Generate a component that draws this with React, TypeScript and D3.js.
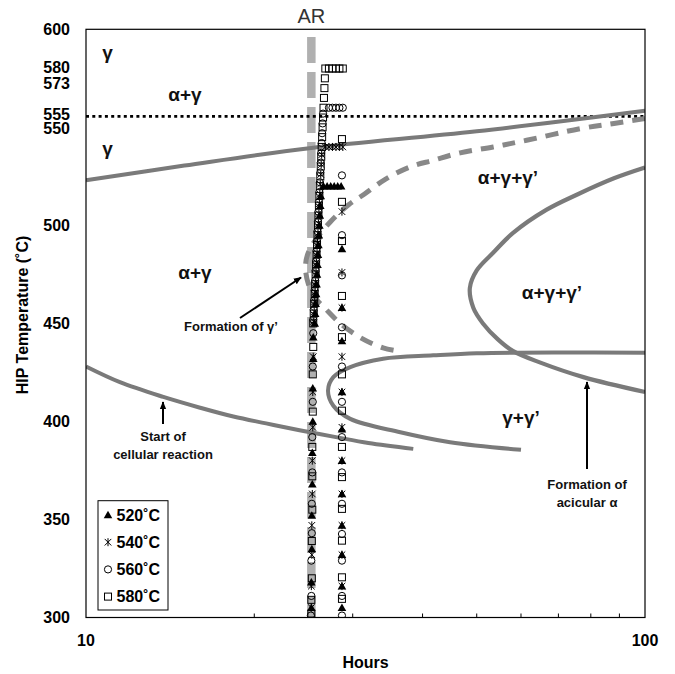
import React from 'react';
import * as d3 from 'd3';

const W = 675;
const H = 674;
const PL = 86, PR = 645, PT = 29.3, PB = 617.5;

// ---- axes ----
const yTickValues = [600, 580, 573, 555, 550, 500, 450, 400, 350, 300];
const xMajorTicks = [10, 100];
const xMinorTicks = [20, 30, 40, 50, 60, 70, 80, 90];

// ---- reference lines ----
const solidTempLines = [580, 573];
const dottedTemp = 555;
const arHours = 25.3;

// ---- phase boundaries [hours, °C] ----
const upperBoundary: [number, number][] = [[10, 523], [15, 530.5], [25.3, 539.5], [50, 548], [100, 558.5]];
const gammaPrimeCurve: [number, number][] = [
  [100, 554.5], [88, 552], [76.5, 549.3], [61.4, 543.4], [53.5, 540], [46.7, 537], [41.8, 533.2], [38, 529.8],
  [34.3, 523.5], [31.5, 516], [29.5, 510.5], [27.4, 502], [25.8, 493], [24.9, 485], [24.7, 478], [25.0, 470],
  [25.7, 463], [26.8, 457.5], [28.5, 450], [31, 442.7], [34, 437.5], [36, 436],
];
const acicularCurve: [number, number][] = [
  [100, 529.5], [88, 524], [76, 516], [66.7, 508], [58, 496], [53.5, 486], [50, 477], [48.6, 468], [49.3, 458],
  [51.3, 450], [54.5, 442], [58, 436], [65, 430], [77.6, 422.6], [100, 415],
];
const gammaGammaPrimeCurve: [number, number][] = [
  [100, 435], [70, 435.2], [50, 434.8], [41.8, 433.7], [34, 432], [29.7, 427.7], [27.7, 422.6], [27.1, 415.8],
  [27.7, 408], [29.7, 401.3], [36.5, 394.5], [44.8, 389.4], [60, 385.5],
];
const cellularCurve: [number, number][] = [
  [10, 428], [11.5, 420], [13.75, 412.5], [16, 407], [18.35, 402.5], [21, 399], [24.1, 395.5], [28, 392],
  [32, 389], [38.5, 386],
];

// ---- measured series [hours, °C] ----
const series580: [number, number][] = [
  [25.3, 302], [25.3, 309], [25.35, 320], [25.35, 339], [25.4, 355], [25.4, 372], [25.4, 387], [25.45, 405], [25.45, 424], [25.5, 438],
  [25.5, 450], [25.55, 455], [25.6, 460], [25.65, 465], [25.7, 470], [25.75, 475], [25.8, 480], [25.85, 485], [25.9, 490], [25.95, 495],
  [26.0, 500], [26.05, 505], [26.1, 510], [26.15, 515], [26.2, 520], [26.25, 525], [26.3, 530], [26.35, 535], [26.4, 540], [26.45, 545],
  [26.5, 550], [26.55, 555], [26.6, 560], [26.65, 565], [26.7, 570], [26.75, 575],
  [26.8, 580], [27.2, 580], [27.6, 580], [28.0, 580], [28.4, 580], [28.8, 580],
  [28.7, 544], [28.7, 512], [28.7, 492], [28.7, 464], [28.7, 443], [28.7, 424], [28.7, 405.5], [28.7, 387], [28.7, 371.6],
  [28.7, 355.4], [28.7, 339.2], [28.7, 320.5], [28.7, 309.5],
];
const series560: [number, number][] = [
  [25.25, 301], [25.3, 311], [25.3, 329], [25.35, 343], [25.35, 358], [25.4, 374], [25.4, 392], [25.45, 410], [25.45, 428], [25.5, 445],
  [25.5, 452], [25.55, 457], [25.6, 462], [25.65, 467], [25.7, 472], [25.75, 477], [25.8, 482], [25.85, 487], [25.9, 492], [25.95, 497],
  [26.0, 502], [26.05, 507], [26.1, 512], [26.15, 517], [26.2, 522], [26.25, 527], [26.3, 532], [26.35, 537], [26.4, 542], [26.45, 547],
  [26.5, 552], [26.55, 557],
  [27.2, 560], [27.6, 560], [28.0, 560], [28.4, 560], [28.8, 560],
  [28.7, 525.5], [28.7, 495], [28.7, 474.5], [28.7, 448], [28.7, 428], [28.7, 410], [28.7, 392], [28.7, 374], [28.7, 358],
  [28.7, 342.6], [28.7, 329], [28.7, 311], [28.7, 301],
];
const series540: [number, number][] = [
  [25.3, 305], [25.3, 316], [25.35, 332], [25.35, 347], [25.4, 363], [25.4, 380], [25.45, 397], [25.45, 415], [25.5, 433],
  [25.55, 451], [25.6, 456], [25.65, 461], [25.7, 466], [25.75, 471], [25.8, 476], [25.85, 481], [25.9, 486], [25.95, 491], [26.0, 496],
  [26.05, 501], [26.1, 506], [26.15, 511], [26.2, 516], [26.25, 521], [26.3, 526], [26.35, 531], [26.4, 536],
  [26.8, 540], [27.2, 540], [27.6, 540], [28.0, 540], [28.4, 540], [28.8, 540],
  [28.7, 507], [28.7, 476], [28.7, 458], [28.7, 433], [28.7, 415], [28.7, 397], [28.7, 380], [28.7, 363], [28.7, 347],
  [28.7, 332], [28.7, 316],
];
const series520: [number, number][] = [
  [25.3, 305], [25.3, 318], [25.35, 335], [25.35, 352], [25.4, 368], [25.4, 384], [25.45, 400], [25.45, 417], [25.5, 432], [25.5, 443],
  [25.65, 450], [25.7, 455], [25.75, 460], [25.8, 465], [25.85, 470], [25.9, 475], [25.95, 480], [26.0, 485], [26.05, 490], [26.1, 495],
  [26.15, 500], [26.2, 505], [26.25, 510], [26.3, 515],
  [26.6, 520], [27.0, 520], [27.4, 520], [27.8, 520], [28.2, 520], [28.6, 520],
  [28.7, 488], [28.7, 458], [28.7, 441], [28.7, 415], [28.7, 396], [28.7, 380], [28.7, 363], [28.7, 347], [28.7, 332],
  [28.7, 316], [28.7, 305],
];

const legendLabels = ['520˚C', '540˚C', '560˚C', '580˚C'];
const legendSymbols = ['tri', 'star', 'circle', 'square'];

const FONT = "'Liberation Sans', Arial, Helvetica, sans-serif";

// small nudges so closely spaced tick labels do not collide (as in the original)
const labelNudge: Record<number, number> = { 580: -1.5, 573: 0.8, 555: -3.6, 550: 1.2 };

function Marker({ type, x, y }: { type: string; x: number; y: number }) {
  if (type === 'tri') {
    return <path d={`M${x},${y - 4.2}L${x + 4.3},${y + 3.3}L${x - 4.3},${y + 3.3}Z`} fill="#000" />;
  }
  if (type === 'star') {
    const r = 3.3;
    return (
      <g stroke="#000" strokeWidth={1}>
        <line x1={x - r} y1={y - r} x2={x + r} y2={y + r} />
        <line x1={x - r} y1={y + r} x2={x + r} y2={y - r} />
        <line x1={x} y1={y - 4} x2={x} y2={y + 4} />
      </g>
    );
  }
  if (type === 'circle') {
    return <circle cx={x} cy={y} r={3.6} fill="none" stroke="#000" strokeWidth={1} />;
  }
  return <rect x={x - 3.5} y={y - 3.5} width={7} height={7} fill="none" stroke="#000" strokeWidth={1} />;
}

export default function App() {
  const x = d3.scaleLog().domain([10, 100]).range([PL, PR]);
  const y = d3.scaleLinear().domain([300, 600]).range([PB, PT]);
  const line = d3
    .line<[number, number]>()
    .x((d) => x(d[0]))
    .y((d) => y(d[1]))
    .curve(d3.curveCatmullRom.alpha(0.5));

  const seriesList: { data: [number, number][]; type: string }[] = [
    { data: series580, type: 'square' },
    { data: series560, type: 'circle' },
    { data: series540, type: 'star' },
    { data: series520, type: 'tri' },
  ];

  const grayCurve = '#7a7a7a';

  return (
    <svg width={W} height={H} style={{ position: 'absolute', left: 0, top: 0, background: '#fff' }} fontFamily={FONT}>
      <defs>
        <clipPath id="plot">
          <rect x={PL} y={PT} width={PR - PL} height={PB - PT} />
        </clipPath>
        <filter id="soft" x="-5%" y="-5%" width="110%" height="110%">
          <feGaussianBlur stdDeviation={0.6} />
        </filter>
        <marker id="arrow" viewBox="0 0 10 10" refX={9} refY={5} markerWidth={8} markerHeight={8} orient="auto-start-reverse" markerUnits="userSpaceOnUse">
          <path d="M0,1L10,5L0,9Z" fill="#000" />
        </marker>
      </defs>
      <rect x={0} y={0} width={W} height={H} fill="#fff" />

      <g clipPath="url(#plot)">
        {/* AR dashed band */}
        <line x1={x(arHours)} x2={x(arHours)} y1={37} y2={PB} stroke="#b0b0b0" strokeWidth={8.5} strokeDasharray="26 9" />

        {/* horizontal temperature lines */}
        {solidTempLines.map((t) => (
          <line key={t} x1={PL} x2={PR} y1={y(t)} y2={y(t)} stroke="#777" strokeWidth={3} filter="url(#soft)" />
        ))}
        <line x1={PL} x2={PR} y1={y(dottedTemp) - 1.2} y2={y(dottedTemp) - 1.2} stroke="#000" strokeWidth={2.6} strokeDasharray="3 3.3" />

        {/* phase boundaries */}
        <g fill="none" stroke={grayCurve} filter="url(#soft)">
          <path d={line(upperBoundary) || ''} strokeWidth={4} />
          <path d={line(gammaPrimeCurve) || ''} strokeWidth={5} strokeDasharray="13 9" stroke="#888" />
          <path d={line(acicularCurve) || ''} strokeWidth={4.2} />
          <path d={line(gammaGammaPrimeCurve) || ''} strokeWidth={4} />
          <path d={line(cellularCurve) || ''} strokeWidth={4} />
        </g>

        {/* markers */}
        {seriesList.map((s) => (
          <g key={s.type}>
            {s.data.map((d, i) => (
              <Marker key={i} type={s.type} x={x(d[0])} y={y(d[1])} />
            ))}
          </g>
        ))}
      </g>

      {/* x minor ticks */}
      {xMinorTicks.map((t) => (
        <line key={t} x1={x(t)} x2={x(t)} y1={PB} y2={PB - 4} stroke="#000" strokeWidth={1} />
      ))}

      {/* plot border */}
      <rect x={PL} y={PT} width={PR - PL} height={PB - PT} fill="none" stroke="#000" strokeWidth={1.2} />

      {/* y tick labels */}
      {yTickValues.map((t) => (
        <text key={t} x={70} y={y(t) + (labelNudge[t] || 0)} dy="0.36em" textAnchor="end" fontSize={16} fontWeight="bold" fill="#000">
          {t}
        </text>
      ))}
      {/* x tick labels */}
      {xMajorTicks.map((t) => (
        <text key={t} x={x(t)} y={646} textAnchor="middle" fontSize={16} fontWeight="bold" fill="#000">
          {t}
        </text>
      ))}

      {/* axis titles */}
      <text x={(PL + PR) / 2} y={668} textAnchor="middle" fontSize={16} fontWeight="bold">Hours</text>
      <text transform={`translate(28,315) rotate(-90)`} textAnchor="middle" fontSize={16} fontWeight="bold">HIP Temperature (˚C)</text>
      <text x={x(arHours)} y={23} textAnchor="middle" fontSize={20} fill="#333">AR</text>

      {/* region labels */}
      <g fontSize={19} fontWeight="bold" textAnchor="middle" fill="#111">
        <text x={107.5} y={52} dy="0.35em">γ</text>
        <text x={185} y={94} dy="0.35em">α+γ</text>
        <text x={107.5} y={148} dy="0.35em">γ</text>
        <text x={195} y={272} dy="0.35em">α+γ</text>
        <text x={508} y={177} dy="0.35em">α+γ+γ’</text>
        <text x={552} y={292} dy="0.35em">α+γ+γ’</text>
        <text x={521} y={417} dy="0.35em">γ+γ’</text>
      </g>

      {/* annotations */}
      <g fontSize={13} fontWeight="bold" textAnchor="middle" fill="#111">
        <text x={231} y={326} dy="0.35em">Formation of γ’</text>
        <text x={163} y={436} dy="0.35em">Start of</text>
        <text x={163} y={454} dy="0.35em">cellular reaction</text>
        <text x={587} y={484} dy="0.35em">Formation of</text>
        <text x={587} y={502} dy="0.35em">acicular α</text>
      </g>
      <g stroke="#000" strokeWidth={2}>
        <line x1={240} y1={318} x2={301} y2={277.5} markerEnd="url(#arrow)" />
        <line x1={163} y1={424} x2={163} y2={402} markerEnd="url(#arrow)" />
        <line x1={587} y1={469} x2={587} y2={382} markerEnd="url(#arrow)" />
      </g>

      {/* legend */}
      <rect x={98} y={500.7} width={70} height={109.3} fill="#fff" stroke="#000" strokeWidth={1} />
      {legendLabels.map((lab, i) => {
        const cy = 515 + i * 27.2;
        return (
          <g key={lab}>
            <Marker type={legendSymbols[i]} x={108} y={cy} />
            <text x={116.5} y={cy} dy="0.36em" fontSize={16} fontWeight="bold">{lab}</text>
          </g>
        );
      })}
    </svg>
  );
}
